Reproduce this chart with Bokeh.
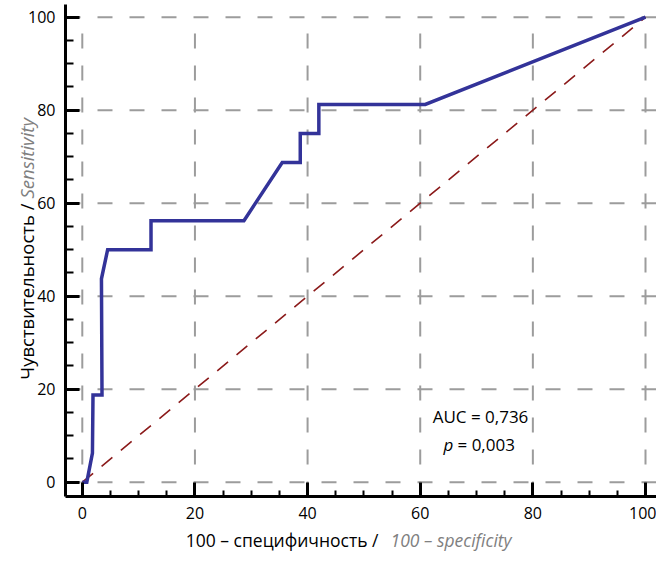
import math
from bokeh.plotting import figure
from bokeh.models import Label, FixedTicker, Range1d
from bokeh.embed import file_html
from bokeh.resources import INLINE

# ROC curve data (1 - specificity, sensitivity), in %
fpr = [0, 0.8, 1.8, 1.9, 3.5, 3.4, 4.5, 12.2, 12.2, 28.7, 35.5, 38.7, 38.7, 42.0, 42.0, 60.9, 100]
tpr = [0, 0, 6.25, 18.75, 18.75, 43.75, 50, 50, 56.25, 56.25, 68.75, 68.75, 75, 75, 81.25, 81.25, 100]

# reference diagonal
diag_x = [0, 100]
diag_y = [0, 100]

major_ticks = [0, 20, 40, 60, 80, 100]
minor_ticks = [v for v in range(5, 100, 5) if v % 20 != 0]

x_label_ru = "100 – специфичность /"
x_label_en = "100 – specificity"
y_label_ru = "Чувствительность /"
y_label_en = "Sensitivity"
auc_text = "AUC = 0,736"
p_sym = "p"
p_text = "= 0,003"

FONT = "Open Sans"
W, H = 656, 554

# pixel <-> data helpers (layout only)
X0_PX, X_SCALE = 81.8, 5.632     # x=0 at 81.8 px, px per unit
Y0_PX, Y_SCALE = 481.7, 4.65     # y=0 at 481.7 px, px per unit
def px2x(px):
    return (px - X0_PX) / X_SCALE
def py2y(py):
    return (Y0_PX - py) / Y_SCALE

AXIS_X = px2x(65)     # data x where the y-axis line sits
AXIS_Y = py2y(496)    # data y where the x-axis line sits

p = figure(width=W, height=H, output_backend="svg", toolbar_location=None,
           x_range=Range1d(px2x(0), px2x(W)), y_range=Range1d(py2y(H), py2y(0)),
           min_border=0, min_border_left=0, min_border_right=0,
           min_border_top=0, min_border_bottom=0)
p.outline_line_color = None
p.background_fill_color = "white"
p.grid.visible = False

# axes drawn at fixed locations inside the full-canvas frame
xa, ya = p.xaxis[0], p.yaxis[0]
xa.fixed_location = AXIS_Y
ya.fixed_location = AXIS_X
xa.bounds = (AXIS_X, px2x(W))
ya.bounds = (AXIS_Y, py2y(4))
for ax in (xa, ya):
    ax.ticker = FixedTicker(ticks=major_ticks, minor_ticks=minor_ticks)
    ax.axis_line_width = 3
    ax.axis_line_color = "black"
    ax.major_tick_line_width = 3
    ax.minor_tick_line_width = 2
    ax.major_tick_out = 0
    ax.minor_tick_out = 0
    ax.major_tick_in = 14
    ax.major_label_text_font = FONT
    ax.major_label_text_font_size = "16px"
    ax.major_label_text_color = "black"
ya.minor_tick_in = 8
xa.minor_tick_in = 6
ya.major_label_standoff = 10
xa.major_label_standoff = 10

# dashed grid at the major ticks
n = len(major_ticks)
p.segment(x0=major_ticks, y0=[AXIS_Y] * n, x1=major_ticks, y1=[max(major_ticks)] * n,
          line_color="#9c9c9c", line_width=2, line_dash="15 17")
p.segment(x0=[AXIS_X] * n, y0=major_ticks, x1=[px2x(W)] * n, y1=major_ticks,
          line_color="#9c9c9c", line_width=2, line_dash="15 17")

# diagonal and ROC curve
p.line(diag_x, diag_y, line_color="#8b1a1a", line_width=1.6, line_dash="14 11")
p.line(fpr, tpr, line_color="#333399", line_width=3.5, line_join="miter")

# axis titles (two-tone)
p.add_layout(Label(x=px2x(378), y=py2y(539), text=x_label_ru,
                   text_font=FONT, text_font_size="17.5px", text_color="black",
                   text_align="right", text_baseline="alphabetic"))
p.add_layout(Label(x=px2x(390), y=py2y(539), text=x_label_en,
                   text_font=FONT, text_font_size="17.5px", text_color="#808080",
                   text_font_style="italic", text_align="left", text_baseline="alphabetic"))
p.add_layout(Label(x=px2x(26), y=py2y(203), text=y_label_ru,
                   text_font=FONT, text_font_size="18.5px", text_color="black", angle=math.pi / 2,
                   text_align="right", text_baseline="alphabetic"))
p.add_layout(Label(x=px2x(26), y=py2y(198), text=y_label_en,
                   text_font=FONT, text_font_size="18.5px", text_color="#808080", angle=math.pi / 2,
                   text_font_style="italic", text_align="left", text_baseline="alphabetic"))

# AUC annotation
p.add_layout(Label(x=px2x(480), y=py2y(415.7), text=auc_text, text_font=FONT,
                   text_font_size="17px", text_color="black", text_align="center",
                   text_baseline="alphabetic"))
p.add_layout(Label(x=px2x(443), y=py2y(444), text=p_sym, text_font=FONT, text_font_size="17px",
                   text_font_style="italic", text_color="black", text_align="left",
                   text_baseline="alphabetic"))
p.add_layout(Label(x=px2x(457), y=py2y(444), text=p_text, text_font=FONT, text_font_size="17px",
                   text_color="black", text_align="left", text_baseline="alphabetic"))

open("out.html", "w").write(file_html(p, INLINE))
